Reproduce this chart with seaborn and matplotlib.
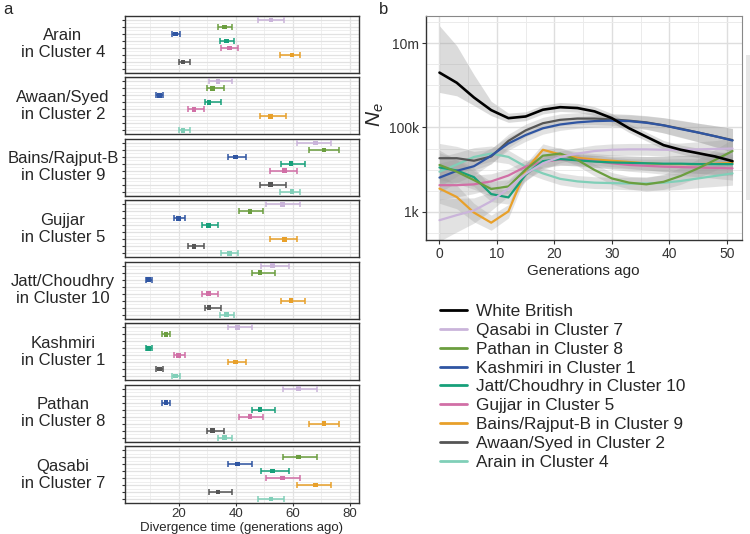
import matplotlib
matplotlib.use("Agg")
import matplotlib.pyplot as plt
from matplotlib.lines import Line2D
from matplotlib.patches import Rectangle
from matplotlib.ticker import NullFormatter, FixedLocator, FixedFormatter
import seaborn as sns
import numpy as np
import pandas as pd

# ---------------- data: panel a ----------------
row_pops = ["Qasabi", "Pathan", "Kashmiri", "Jatt/Choudhry", "Gujjar",
            "Bains/Rajput-B", "Awaan/Syed", "Arain"]
clusters = [7, 8, 1, 10, 5, 9, 2, 4]
facet_pops = ["Arain", "Awaan/Syed", "Bains/Rajput-B", "Gujjar",
              "Jatt/Choudhry", "Kashmiri", "Pathan", "Qasabi"]

pair_a = ["Arain", "Arain", "Arain", "Arain", "Arain", "Arain", "Arain",
          "Awaan/Syed", "Awaan/Syed", "Awaan/Syed", "Awaan/Syed", "Awaan/Syed", "Awaan/Syed",
          "Bains/Rajput-B", "Bains/Rajput-B", "Bains/Rajput-B", "Bains/Rajput-B", "Bains/Rajput-B",
          "Gujjar", "Gujjar", "Gujjar", "Gujjar",
          "Jatt/Choudhry", "Jatt/Choudhry", "Jatt/Choudhry",
          "Kashmiri", "Kashmiri",
          "Pathan"]
pair_b = ["Qasabi", "Pathan", "Kashmiri", "Jatt/Choudhry", "Gujjar", "Bains/Rajput-B", "Awaan/Syed",
          "Qasabi", "Pathan", "Kashmiri", "Jatt/Choudhry", "Gujjar", "Bains/Rajput-B",
          "Qasabi", "Pathan", "Kashmiri", "Jatt/Choudhry", "Gujjar",
          "Qasabi", "Pathan", "Kashmiri", "Jatt/Choudhry",
          "Qasabi", "Pathan", "Kashmiri",
          "Qasabi", "Pathan",
          "Qasabi"]
div_mean = [52.4, 36.1, 19.0, 36.8, 37.8, 59.8, 21.5,
            33.8, 31.9, 13.2, 30.7, 25.4, 52.2,
            68.1, 71.0, 39.9, 59.5, 57.2,
            56.5, 45.0, 20.0, 30.5,
            53.0, 48.6, 9.4,
            40.7, 15.6,
            62.1]
div_lo = [47.8, 33.8, 17.6, 34.6, 34.8, 55.6, 20.3,
          30.8, 29.8, 12.0, 29.1, 23.4, 48.4,
          61.4, 65.8, 37.2, 55.8, 52.2,
          50.5, 41.2, 18.3, 28.3,
          48.9, 45.9, 8.6,
          37.4, 14.3,
          56.6]
div_hi = [57.0, 38.9, 20.5, 39.6, 40.9, 62.7, 24.0,
          38.7, 36.0, 14.7, 34.9, 28.9, 57.7,
          73.6, 76.2, 43.8, 64.2, 61.7,
          62.5, 49.5, 22.3, 33.9,
          58.9, 53.8, 10.5,
          45.8, 17.1,
          68.4]

# ---------------- data: panel b (log10 Ne) ----------------
gens = [0, 3, 6, 9, 12, 15, 18, 21, 24, 27, 30, 33, 36, 39, 42, 45, 48, 51]
ne_white_british = [6.30, 6.06, 5.71, 5.41, 5.22, 5.26, 5.42, 5.48, 5.46, 5.38, 5.22, 4.98, 4.78, 4.58, 4.47, 4.39, 4.31, 4.20]
wb_hi = [7.41, 6.94, 6.25, 5.62, 5.34, 5.37, 5.53, 5.59, 5.57, 5.49, 5.33, 5.09, 4.89, 4.69, 4.58, 4.51, 4.44, 4.36]
wb_lo = [5.83, 5.75, 5.52, 5.28, 5.12, 5.16, 5.32, 5.38, 5.36, 5.28, 5.12, 4.88, 4.68, 4.48, 4.37, 4.28, 4.19, 4.06]
ne_qasabi = [2.80, 2.92, 3.03, 3.25, 3.55, 3.90, 4.15, 4.30, 4.38, 4.44, 4.47, 4.48, 4.48, 4.47, 4.47, 4.48, 4.49, 4.50]
ne_pathan = [4.11, 3.95, 3.75, 3.54, 3.60, 4.00, 4.33, 4.38, 4.23, 3.99, 3.79, 3.69, 3.65, 3.71, 3.85, 4.03, 4.23, 4.44]
ne_kashmiri = [3.81, 3.97, 4.08, 4.33, 4.62, 4.82, 4.98, 5.07, 5.12, 5.15, 5.16, 5.15, 5.11, 5.05, 4.96, 4.88, 4.79, 4.69]
ne_jatt = [4.05, 3.98, 3.82, 3.42, 3.34, 3.88, 4.20, 4.25, 4.22, 4.19, 4.17, 4.16, 4.15, 4.14, 4.14, 4.13, 4.13, 4.13]
ne_gujjar = [3.63, 3.63, 3.65, 3.72, 3.86, 4.07, 4.18, 4.24, 4.24, 4.20, 4.15, 4.11, 4.09, 4.07, 4.06, 4.05, 4.04, 4.03]
ne_bains = [3.55, 3.35, 2.98, 2.74, 3.01, 3.99, 4.47, 4.36, 4.28, 4.24, 4.21, 4.18, 4.15, 4.13, 4.13, 4.13, 4.14, 4.16]
ne_awaan = [4.27, 4.27, 4.21, 4.31, 4.68, 4.93, 5.10, 5.18, 5.21, 5.21, 5.19, 5.16, 5.12, 5.05, 4.97, 4.88, 4.79, 4.70]
ne_arain = [3.95, 4.12, 4.30, 4.38, 4.30, 4.07, 3.91, 3.78, 3.72, 3.69, 3.68, 3.67, 3.67, 3.69, 3.73, 3.79, 3.85, 3.91]
band_qasabi = [0.50, 0.40, 0.30, 0.22, 0.18, 0.16, 0.15, 0.14, 0.14, 0.14, 0.14, 0.14, 0.14, 0.15, 0.16, 0.18, 0.20, 0.24]
band_other = [0.35, 0.28, 0.22, 0.18, 0.16, 0.15, 0.14, 0.14, 0.14, 0.14, 0.14, 0.15, 0.16, 0.18, 0.20, 0.22, 0.25, 0.28]

# ---------------- styles ----------------
colors = ["#cab4da", "#6b9e3f", "#2f55a2", "#17a07a", "#d16fa6",
          "#e8a02a", "#555555", "#80cfb8"]
palette = dict(zip(row_pops, colors))

sns.set_theme(style="white")
plt.rcParams["font.family"] = ["Liberation Sans", "DejaVu Sans"]
plt.rcParams["mathtext.fontset"] = "custom"
plt.rcParams["mathtext.it"] = "Liberation Sans:italic"
plt.rcParams["mathtext.rm"] = "Liberation Sans"

fig = plt.figure(figsize=(7.5, 5.34), dpi=100)
W, H = 750.0, 534.0

# ---------------- panel a ----------------
recs = []
for a, b, m, lo, hi in zip(pair_a, pair_b, div_mean, div_lo, div_hi):
    recs.append(dict(facet=a, pop=b, mean=m, lo=lo, hi=hi))
    recs.append(dict(facet=b, pop=a, mean=m, lo=lo, hi=hi))
df = pd.DataFrame(recs)
df["row"] = df["pop"].map({p: i for i, p in enumerate(row_pops)})

gs = fig.add_gridspec(8, 1, left=125 / W, right=359 / W,
                      top=1 - 15.7 / H, bottom=1 - 503.3 / H, hspace=0.073)
label_of = dict(zip(row_pops, clusters))
for i, f in enumerate(facet_pops):
    ax = fig.add_subplot(gs[i, 0])
    sub = df[df["facet"] == f]
    for _, r in sub.iterrows():
        ax.errorbar(r["mean"], r["row"], xerr=[[r["mean"] - r["lo"]], [r["hi"] - r["mean"]]],
                    fmt="none", ecolor=palette[r["pop"]], elinewidth=1.1,
                    capsize=2.4, capthick=1.1, zorder=3)
    sns.scatterplot(data=sub, x="mean", y="row", hue="pop", palette=palette,
                    marker="s", s=11, linewidth=0, legend=False, ax=ax, zorder=4)
    ax.set_xlim(1.2, 83.3)
    ax.set_ylim(7.6, -0.6)
    ax.set_xticks([20, 40, 60, 80])
    ax.set_xticks([10, 30, 50, 70], minor=True)
    ax.set_yticks(range(8))
    ax.set_yticks(np.arange(-0.5, 8, 1), minor=True)
    ax.set_yticklabels([])
    ax.grid(which="major", color="#e2e2e2", lw=0.9)
    ax.grid(which="minor", color="#ececec", lw=0.6)
    ax.set_axisbelow(True)
    ax.set_ylabel("")
    for s in ax.spines.values():
        s.set_color("#333333")
        s.set_linewidth(1.0)
    ax.tick_params(axis="y", which="major", left=True, length=2, width=0.8, color="#333333")
    ax.tick_params(axis="both", which="minor", length=0)
    if i < 7:
        ax.set_xticklabels([])
        ax.tick_params(axis="x", which="major", length=0)
        ax.set_xlabel("")
    else:
        ax.tick_params(axis="x", which="major", bottom=True, length=2, width=0.8,
                       color="#333333", labelsize=9.5, labelcolor="#333333", pad=1.5)
        ax.set_xlabel("Divergence time (generations ago)", fontsize=9.5, labelpad=1.5)
    ax.text(-0.265, 0.5, f"{f}\nin Cluster {label_of[f]}", transform=ax.transAxes,
            ha="center", va="center", fontsize=12, linespacing=1.15)

# ---------------- panel b ----------------
axb = fig.add_axes([425.7 / W, 1 - 240 / H, 316 / W, 224.3 / H])
series = [ne_qasabi, ne_pathan, ne_kashmiri, ne_jatt, ne_gujjar, ne_bains, ne_awaan, ne_arain]
bands = [band_qasabi] + [band_other] * 7
long = []
for p, vals in zip(row_pops, series):
    for g, v in zip(gens, vals):
        long.append(dict(gen=g, ne=10 ** v, series=p))
dfl = pd.DataFrame(long)

g_arr = np.array(gens)
for vals, bw in zip(series, bands):
    v = np.array(vals)
    bw = np.array(bw)
    axb.fill_between(g_arr, 10 ** (v - bw), 10 ** (v + bw), color="#9a9a9a",
                     alpha=0.28, linewidth=0, zorder=1)
axb.fill_between(g_arr, 10 ** np.array(wb_lo), 10 ** np.array(wb_hi), color="#9a9a9a",
                 alpha=0.35, linewidth=0, zorder=1)

sns.lineplot(data=dfl, x="gen", y="ne", hue="series", hue_order=row_pops[::-1],
             palette=palette, linewidth=1.6, legend=False, ax=axb,
             estimator=None, sort=False, zorder=3)
dfw = pd.DataFrame(dict(gen=gens, ne=10 ** np.array(ne_white_british)))
sns.lineplot(data=dfw, x="gen", y="ne", color="black", linewidth=1.9, ax=axb,
             estimator=None, zorder=4)

axb.set_yscale("log")
axb.set_xlim(-2.4, 52.6)
axb.set_ylim(10 ** 2.33, 10 ** 7.65)
axb.yaxis.set_major_locator(FixedLocator([1e3, 1e5, 1e7]))
axb.yaxis.set_major_formatter(FixedFormatter(["1k", "100k", "10m"]))
axb.yaxis.set_minor_locator(FixedLocator([10 ** e for e in [2.5, 3.5, 4.0, 4.5, 5.5, 6.0, 6.5, 7.5]]))
axb.yaxis.set_minor_formatter(NullFormatter())
axb.set_xticks([0, 10, 20, 30, 40, 50])
axb.set_xticks([5, 15, 25, 35, 45], minor=True)
axb.grid(which="major", color="#dedede", lw=1.0)
axb.grid(which="minor", color="#ebebeb", lw=0.7)
axb.set_axisbelow(True)
axb.tick_params(axis="both", which="major", length=3, width=0.8, color="#333333",
                labelsize=10, labelcolor="#333333", pad=2, left=True, bottom=True)
axb.tick_params(axis="both", which="minor", length=0)
axb.set_xlabel("Generations ago", fontsize=11, labelpad=2)
axb.set_ylabel(r"$N_e$", fontsize=15)
axb.yaxis.set_label_coords(-0.125, 0.56)
for k in ["left", "bottom"]:
    axb.spines[k].set_color("#333333")
    axb.spines[k].set_linewidth(1.0)
for k in ["top", "right"]:
    axb.spines[k].set_color("#888888")
    axb.spines[k].set_linewidth(0.8)

# legend
handles = [Line2D([0], [0], color="black", lw=2.0)]
labels = ["White British"]
for p, c in zip(row_pops, clusters):
    handles.append(Line2D([0], [0], color=palette[p], lw=2.0))
    labels.append(f"{p} in Cluster {c}")
fig.legend(handles, labels, loc="upper left", bbox_to_anchor=(440 / W, 1 - 304 / H),
           frameon=False, fontsize=12.4, handlelength=1.55, handletextpad=0.55,
           labelspacing=0.22, borderpad=0, borderaxespad=0)

# clipped legend bar at right edge
fig.add_artist(Rectangle((746 / W, 1 - 200 / H), 4 / W, 145 / H,
                         transform=fig.transFigure, color="#e6e6e6", lw=0))

fig.text(3 / W, 1 - 2 / H, "a", fontsize=12, va="top", ha="left")
fig.text(379 / W, 1 - 2 / H, "b", fontsize=12, va="top", ha="left")

fig.savefig("out.png", dpi=100)
